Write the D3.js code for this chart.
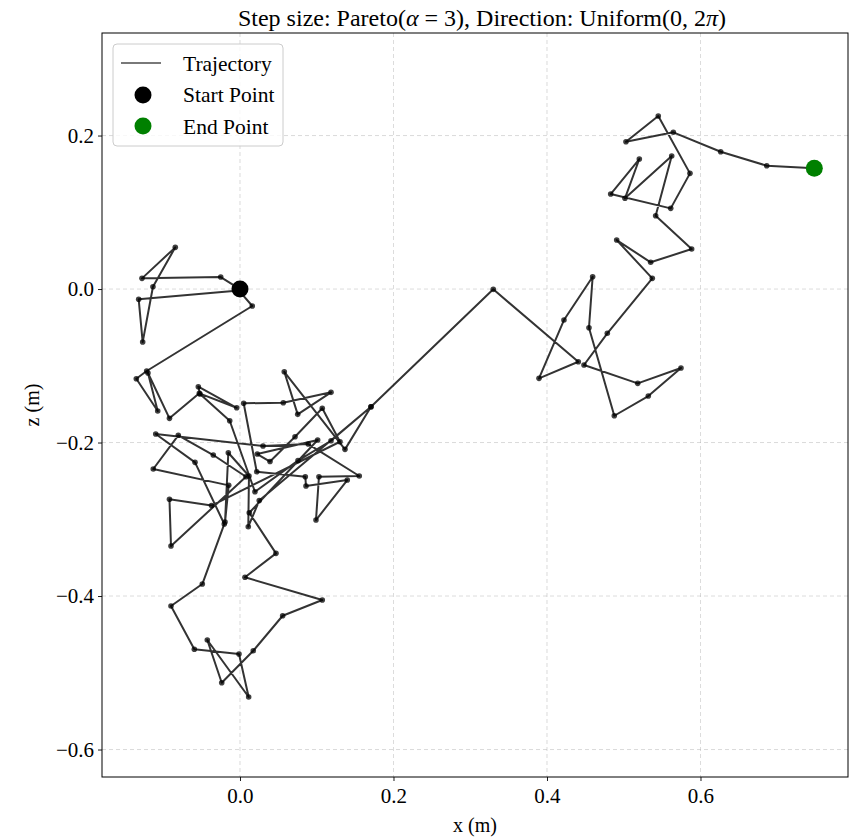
<!DOCTYPE html>
<html>
<head>
<meta charset="utf-8">
<script src="https://cdn.jsdelivr.net/npm/d3@7"></script>
<style>
  html, body { margin: 0; padding: 0; background: #fff; }
  svg text { font-family: "Liberation Serif", "Times New Roman", serif; }
</style>
</head>
<body>
<svg id="chart" width="859" height="838"></svg>
<script>
// Random-walk trajectory (x, z in metres), in visiting order
const walkX = [
  0.0000, -0.0251, -0.1277, -0.0843, -0.1134, -0.1268, -0.1320, -0.0013, 0.0160, -0.1216,
  -0.1351, -0.1072, -0.1199, -0.0919, -0.0530, -0.0043, -0.0543, -0.0521, -0.0134, 0.0195,
  0.0756, 0.1186, 0.1707, 0.1368, 0.0577, 0.0752, 0.1186, 0.0564, 0.0048, 0.0218,
  0.0851, 0.0860, 0.1398, 0.0990, 0.1029, 0.1554, 0.0890, 0.0300, -0.1098, -0.0586,
  -0.0205, -0.0491, -0.0899, -0.0595, -0.0013, 0.0113, -0.0426, -0.0238, 0.0173, 0.0556,
  0.1072, 0.0065, 0.0469, 0.0121, 0.1012, 0.0225, 0.0391, 0.0717, 0.1072, 0.1303,
  -0.0371, -0.0919, -0.0899, 0.0078, -0.0348, -0.0804, -0.1130, -0.0147, -0.0195, -0.0152,
  0.0117, 0.0108, 0.0251, 0.1707, 0.3300, 0.4408, 0.3896, 0.4221, 0.4595, 0.4547,
  0.4877, 0.5320, 0.5746, 0.5182, 0.4482, 0.4786, 0.5372, 0.4908, 0.5351, 0.5885,
  0.5416, 0.5625, 0.5016, 0.5203, 0.4830, 0.5612, 0.5863, 0.5450, 0.5029, 0.5646,
  0.6263, 0.6863, 0.7483
];
const walkZ = [
  0.0000, 0.0156, 0.0139, 0.0543, 0.0030, -0.0691, -0.0134, -0.0020, -0.0221, -0.1068,
  -0.1169, -0.1590, -0.1094, -0.1685, -0.1359, -0.1547, -0.1273, -0.1368, -0.1716, -0.2641,
  -0.2235, -0.1977, -0.1534, -0.2089, -0.1078, -0.1633, -0.1346, -0.1481, -0.1489, -0.2380,
  -0.2446, -0.2567, -0.2489, -0.3010, -0.2446, -0.2436, -0.2020, -0.2046, -0.1889, -0.2258,
  -0.3062, -0.3844, -0.4130, -0.4694, -0.4756, -0.5316, -0.4573, -0.5130, -0.4713, -0.4257,
  -0.4052, -0.3756, -0.3444, -0.2915, -0.1967, -0.2150, -0.2248, -0.1924, -0.1554, -0.1990,
  -0.2821, -0.2740, -0.3349, -0.2446, -0.2163, -0.1906, -0.2345, -0.2558, -0.3036, -0.2133,
  -0.2436, -0.3097, -0.2756, -0.1534, -0.0004, -0.0947, -0.1164, -0.0404, 0.0160, -0.0504,
  -0.1651, -0.1394, -0.1029, -0.1229, -0.0990, -0.0577, 0.0139, 0.0638, 0.0348, 0.0521,
  0.0955, 0.1733, 0.1182, 0.1694, 0.1238, 0.1051, 0.1507, 0.2254, 0.1919, 0.2042,
  0.1789, 0.1607, 0.1573
];

const xTicks = [0.0, 0.2, 0.4, 0.6];
const zTicks = [0.2, 0.0, -0.2, -0.4, -0.6];
const xDomain = [-0.1798, 0.7922];
const zDomain = [-0.6358, 0.3336];

const legendLabels = ["Trajectory", "Start Point", "End Point"];

const points = walkX.map((x, i) => ({ x, z: walkZ[i] }));

const svg = d3.select("#chart");
const margin = { left: 102, right: 11, top: 33, bottom: 61 };
const W = 859, H = 838;
const iw = W - margin.left - margin.right;
const ih = H - margin.top - margin.bottom;

const x = d3.scaleLinear().domain(xDomain).range([0, iw]);
const z = d3.scaleLinear().domain(zDomain).range([ih, 0]);

const g = svg.append("g").attr("transform", `translate(${margin.left},${margin.top})`);

// grid
const grid = g.append("g").attr("stroke", "#b0b0b0").attr("stroke-opacity", 0.5)
  .attr("stroke-width", 0.9).attr("stroke-dasharray", "4,3");
grid.selectAll("line.gx").data(xTicks).join("line")
  .attr("x1", d => x(d)).attr("x2", d => x(d)).attr("y1", 0).attr("y2", ih);
grid.selectAll("line.gz").data(zTicks).join("line")
  .attr("y1", d => z(d)).attr("y2", d => z(d)).attr("x1", 0).attr("x2", iw);

// axes
const fmt = d => d3.format(".1f")(d).replace("-", "\u2212");
const xAxis = g.append("g").attr("transform", `translate(0,${ih})`)
  .call(d3.axisBottom(x).tickValues(xTicks).tickFormat(fmt).tickSize(4).tickPadding(5));
const zAxis = g.append("g")
  .call(d3.axisLeft(z).tickValues(zTicks).tickFormat(fmt).tickSize(4).tickPadding(4));
[xAxis, zAxis].forEach(a => {
  a.select(".domain").remove();
  a.selectAll("line").attr("stroke", "#000").attr("stroke-width", 0.9);
  a.selectAll("text").attr("font-family", "Liberation Serif, serif")
    .attr("font-size", 21).attr("fill", "#000");
});
xAxis.selectAll("text").attr("dy", "0.8em");

// trajectory
const line = d3.line().x(d => x(d.x)).y(d => z(d.z));
g.append("path").datum(points).attr("d", line)
  .attr("fill", "none").attr("stroke", "#000").attr("stroke-opacity", 0.8)
  .attr("stroke-width", 2).attr("stroke-linejoin", "round");
g.selectAll("circle.pt").data(points).join("circle").attr("class", "pt")
  .attr("cx", d => x(d.x)).attr("cy", d => z(d.z)).attr("r", 2.8)
  .attr("fill", "#000").attr("fill-opacity", 0.75);

// start and end markers
g.append("circle").attr("cx", x(points[0].x)).attr("cy", z(points[0].z))
  .attr("r", 8.5).attr("fill", "#000");
const last = points[points.length - 1];
g.append("circle").attr("cx", x(last.x)).attr("cy", z(last.z))
  .attr("r", 8.5).attr("fill", "#008000");

// frame
g.append("rect").attr("width", iw).attr("height", ih)
  .attr("fill", "none").attr("stroke", "#000").attr("stroke-width", 1);

// title with italic Greek symbols
const title = svg.append("text").attr("x", 482).attr("y", 26)
  .attr("text-anchor", "middle").attr("font-size", 24);
title.append("tspan").text("Step size: Pareto(");
title.append("tspan").attr("font-style", "italic").text("\u03B1");
title.append("tspan").text(" = 3), Direction: Uniform(0, 2");
title.append("tspan").attr("font-style", "italic").text("\u03C0");
title.append("tspan").text(")");

// axis labels
svg.append("text").attr("x", margin.left + iw / 2).attr("y", 832)
  .attr("text-anchor", "middle").attr("font-size", 20).text("x (m)");
svg.append("text").attr("transform", `translate(39,${margin.top + ih / 2}) rotate(-90)`)
  .attr("text-anchor", "middle").attr("font-size", 20).text("z (m)");

// legend
const lg = g.append("g").attr("transform", "translate(11,11)");
lg.append("rect").attr("width", 170).attr("height", 102).attr("rx", 4)
  .attr("fill", "#fff").attr("fill-opacity", 0.8).attr("stroke", "#ccc");
lg.append("line").attr("x1", 8).attr("x2", 48).attr("y1", 19).attr("y2", 19)
  .attr("stroke", "#000").attr("stroke-opacity", 0.7).attr("stroke-width", 1.3);
lg.append("circle").attr("cx", 30).attr("cy", 51).attr("r", 8.5).attr("fill", "#000");
lg.append("circle").attr("cx", 30).attr("cy", 82).attr("r", 8.5).attr("fill", "#008000");
lg.selectAll("text").data(legendLabels).join("text")
  .attr("x", 70).attr("y", (d, i) => 19 + i * 31.5).attr("dy", "0.35em")
  .attr("font-size", 21.5).text(d => d);
</script>
</body>
</html>
